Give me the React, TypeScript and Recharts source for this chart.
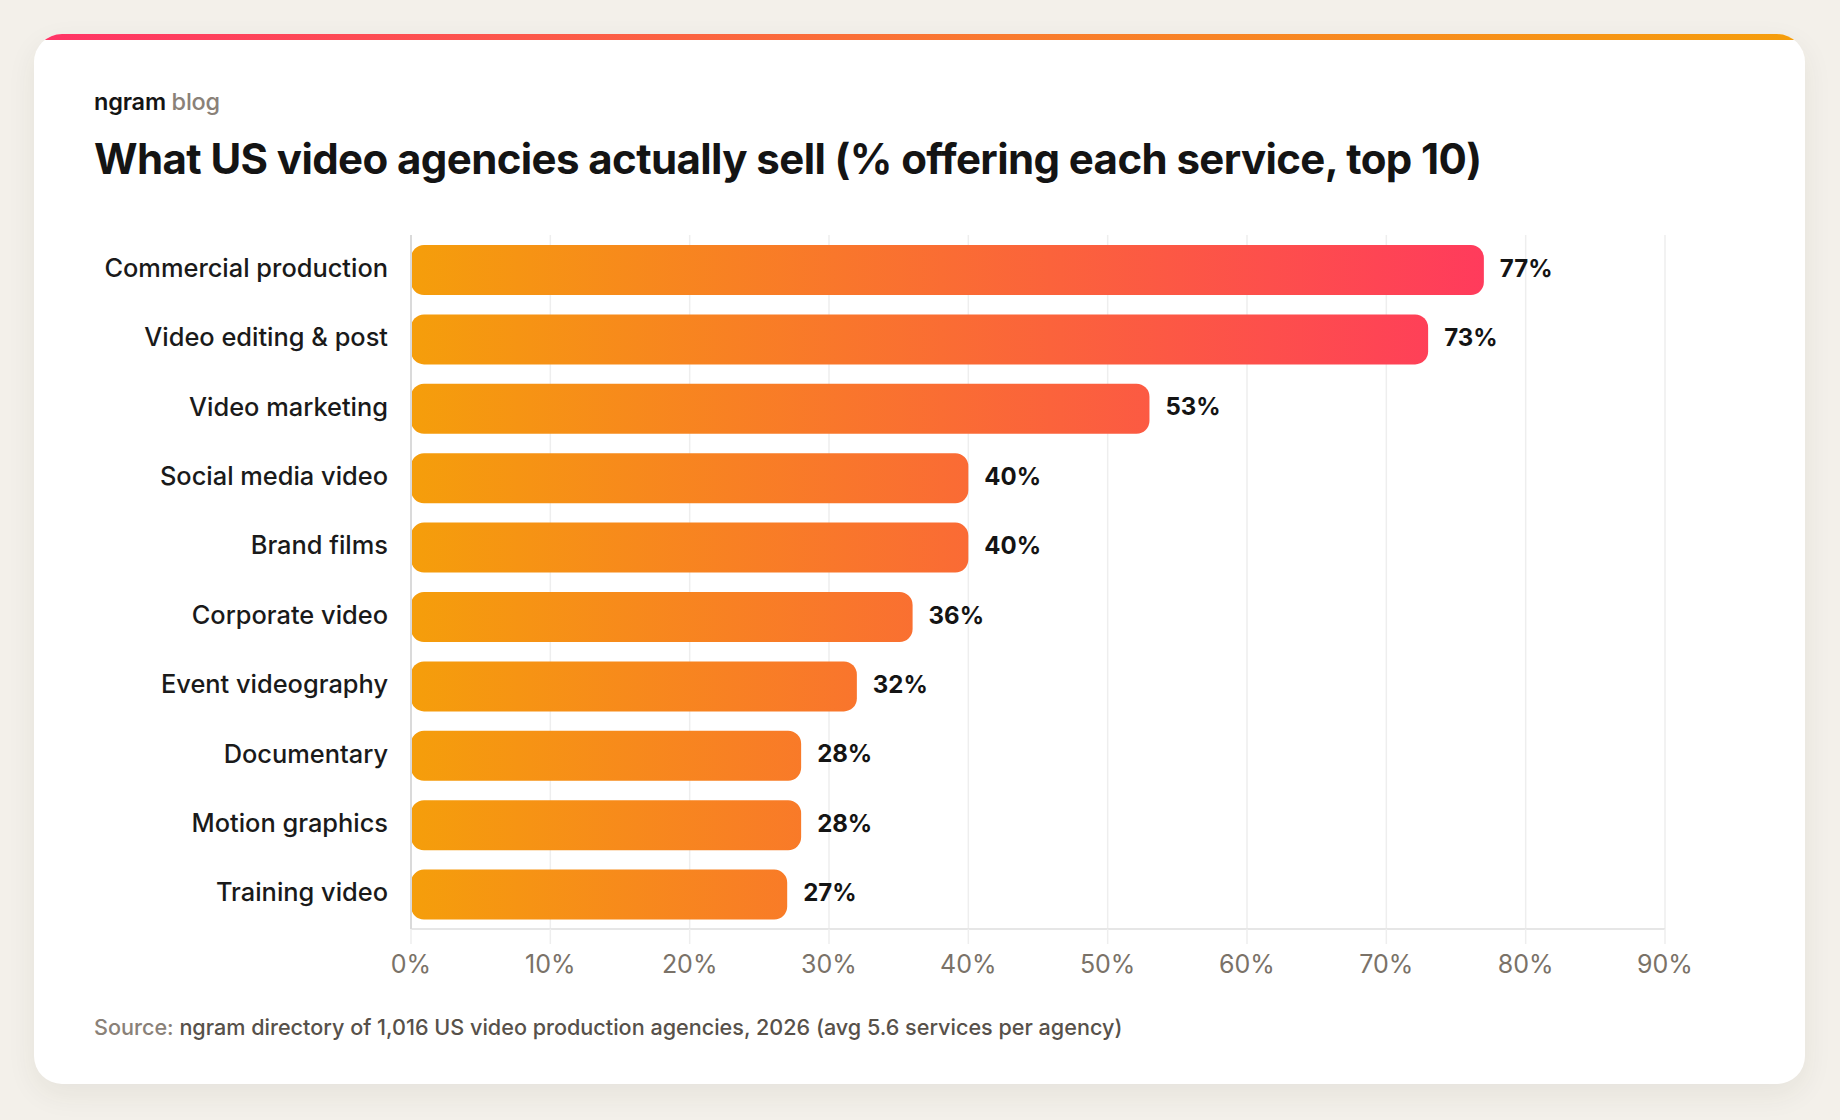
import React from 'react'
import { BarChart, Bar, XAxis, YAxis, CartesianGrid, LabelList } from 'recharts'

const services = [
  'Commercial production',
  'Video editing & post',
  'Video marketing',
  'Social media video',
  'Brand films',
  'Corporate video',
  'Event videography',
  'Documentary',
  'Motion graphics',
  'Training video',
]
const shares = [77, 73, 53, 40, 40, 36, 32, 28, 28, 27]
const xTicks = [0, 10, 20, 30, 40, 50, 60, 70, 80, 90]

const FONT = 'Inter, "Noto Sans", sans-serif'

const CHART_W = 1771
const CHART_H = 830
const Y_AXIS_W = 377
const MARGIN = { top: 30, right: 140, bottom: 56, left: 0 }
const X_MAX = 90

const chartData = services.map((name, i) => ({ name, value: shares[i] }))

// gradient runs in user space from the axis to the longest bar
const plotW = CHART_W - Y_AXIS_W - MARGIN.left - MARGIN.right
const gradStart = MARGIN.left + Y_AXIS_W
const gradEnd = gradStart + (plotW * Math.max(...shares)) / X_MAX

export default function App() {
  return (
    <div
      style={{
        position: 'relative',
        width: 1840,
        height: 1120,
        background: '#F3F0EA',
        fontFamily: FONT,
        overflow: 'hidden',
      }}
    >
      <style>{`body{margin:0}`}</style>
      <div
        style={{
          position: 'absolute',
          left: 34,
          top: 34,
          width: 1771,
          height: 1050,
          background: '#fff',
          borderRadius: 28,
          overflow: 'hidden',
          boxShadow: '0 10px 30px rgba(60,50,30,0.07)',
        }}
      >
        <div
          style={{
            position: 'absolute',
            left: 0,
            top: 0,
            width: '100%',
            height: 6,
            background: 'linear-gradient(90deg, #FF3366 0%, #F97A2E 55%, #F59E0B 100%)',
          }}
        />
        <div
          style={{
            position: 'absolute',
            left: 60,
            top: 55,
            fontSize: 23.5,
            lineHeight: '26px',
            fontWeight: 600,
            color: '#141414',
            letterSpacing: -0.2,
          }}
        >
          ngram <span style={{ fontWeight: 500, color: '#8A8178' }}>blog</span>
        </div>
        <div
          style={{
            position: 'absolute',
            left: 60,
            top: 100,
            fontSize: 42,
            lineHeight: '50px',
            fontWeight: 700,
            color: '#141414',
            letterSpacing: -0.6,
            whiteSpace: 'nowrap',
          }}
        >
          What US video agencies actually sell (% offering each service, top 10)
        </div>
        <div style={{ position: 'absolute', left: 0, top: 171 }}>
          <BarChart
            width={CHART_W}
            height={CHART_H}
            data={chartData}
            layout="vertical"
            margin={MARGIN}
          >
            <defs>
              <linearGradient
                id="barGrad"
                gradientUnits="userSpaceOnUse"
                x1={gradStart}
                y1={0}
                x2={gradEnd}
                y2={0}
              >
                <stop offset="0%" stopColor="#F59E0B" />
                <stop offset="100%" stopColor="#FF3B5C" />
              </linearGradient>
            </defs>
            <CartesianGrid horizontal={false} stroke="#EEEEEE" strokeWidth={1.5} />
            <XAxis
              type="number"
              domain={[0, X_MAX]}
              ticks={xTicks}
              tickFormatter={(v) => `${v}%`}
              axisLine={{ stroke: '#E6E6E6', strokeWidth: 2 }}
              tickLine={{ stroke: '#EEEEEE', strokeWidth: 1.5 }}
              tickSize={15}
              tickMargin={11}
              height={50}
              tick={{ fontSize: 25, fill: '#7A7268', fontFamily: FONT }}
            />
            <YAxis
              type="category"
              dataKey="name"
              width={Y_AXIS_W}
              axisLine={{ stroke: '#DADADA', strokeWidth: 2 }}
              tickLine={false}
              tickSize={0}
              tickMargin={23}
              tick={{ fontSize: 25.4, fill: '#1A1A1A', fontWeight: 500, fontFamily: FONT, dy: -2 }}
            />
            <Bar
              dataKey="value"
              fill="url(#barGrad)"
              barSize={50}
              radius={13}
              isAnimationActive={false}
            >
              <LabelList
                dataKey="value"
                position="right"
                offset={16}
                formatter={(v: number) => `${v}%`}
                dy={-2}
                style={{ fontSize: 24, fontWeight: 700, fill: '#141414', fontFamily: FONT }}
              />
            </Bar>
          </BarChart>
        </div>
        <div
          style={{
            position: 'absolute',
            left: 60,
            top: 980,
            fontSize: 21.6,
            lineHeight: '26px',
            fontWeight: 500,
            color: '#57514A',
            whiteSpace: 'nowrap',
          }}
        >
          <span style={{ color: '#8A8178' }}>Source:</span> ngram directory of 1,016 US video
          production agencies, 2026 (avg 5.6 services per agency)
        </div>
      </div>
    </div>
  )
}
